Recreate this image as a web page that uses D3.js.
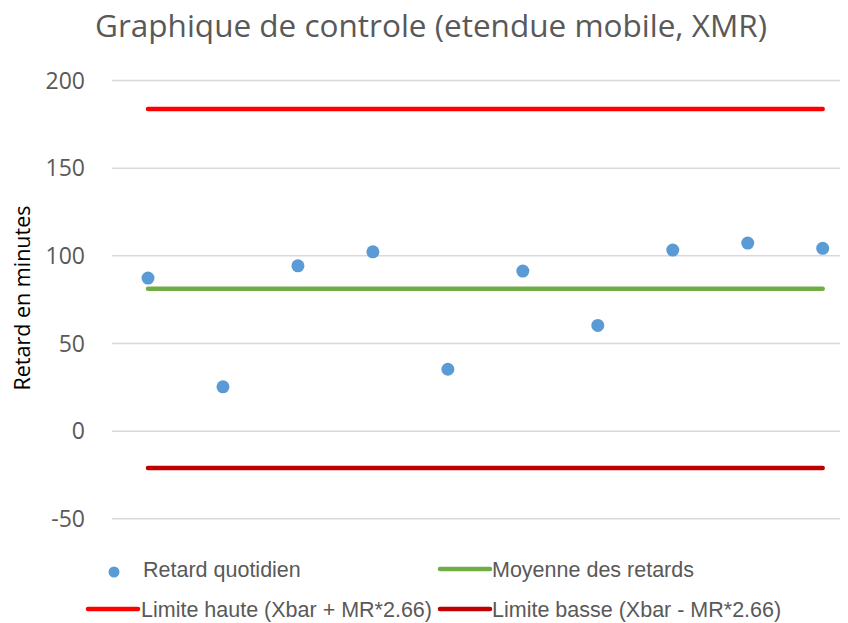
<!DOCTYPE html>
<html><head><meta charset="utf-8">
<script src="https://cdn.jsdelivr.net/npm/d3@7"></script>
<style>body{margin:0;background:#fff;} svg{display:block;}</style>
</head><body>
<script>
const days = [1,2,3,4,5,6,7,8,9,10];
const retards = [87,25,94,102,35,91,60,103,107,104];
const moyenne = 81;
const limiteHaute = 183.5;
const limiteBasse = -21.3;
const yTicks = [-50,0,50,100,150,200];
const seriesNames = ["Retard quotidien","Moyenne des retards","Limite haute (Xbar + MR*2.66)","Limite basse (Xbar - MR*2.66)"];
const colors = ["#5B9BD5","#70AD47","#FF0000","#C00000"];

const W=848,H=623;
const svg=d3.select("body").append("svg").attr("width",W).attr("height",H);
const x=d3.scalePoint().domain(days).range([148,822.7]);
const y=d3.scaleLinear().domain([-50,200]).range([518.3,80]);

svg.append("text").attr("x",431).attr("y",37).attr("text-anchor","middle")
  .attr("font-family","Open Sans, sans-serif").attr("font-size",31.5).attr("fill","#595959")
  .text("Graphique de controle (etendue mobile, XMR)");

const yAxis=d3.axisLeft(y).tickValues(yTicks).tickFormat(d=>String(d)).tickSize(-(840-112)).tickPadding(30);
const g=svg.append("g").attr("transform","translate(112,0)").call(yAxis);
g.select(".domain").remove();
g.selectAll(".tick line").attr("stroke","#D9D9D9").attr("stroke-width",1.5);
g.selectAll(".tick text").attr("fill","#595959").attr("font-family","Open Sans, sans-serif").attr("font-size",23).attr("text-anchor","end").attr("x",-27).attr("dy","0.35em");

svg.append("text").attr("transform","translate(30,298) rotate(-90)").attr("text-anchor","middle")
  .attr("font-family","Open Sans, sans-serif").attr("font-size",21.5).attr("fill","#000").text("Retard en minutes");

const hline=(v,c)=>svg.append("line").attr("x1",x(days[0])).attr("x2",x(days[days.length-1]))
  .attr("y1",y(v)).attr("y2",y(v)).attr("stroke",c).attr("stroke-width",4.5).attr("stroke-linecap","round");
hline(limiteHaute,colors[2]);
hline(limiteBasse,colors[3]);
hline(moyenne,colors[1]);

svg.selectAll("circle.pt").data(retards).enter().append("circle").attr("class","pt")
  .attr("cx",(d,i)=>x(days[i])).attr("cy",d=>y(d)).attr("r",6.5).attr("fill",colors[0]);

const lg=svg.append("g").attr("font-family","Liberation Sans, Arial, sans-serif").attr("font-size",21.5).attr("fill","#595959");
lg.append("circle").attr("cx",114).attr("cy",572).attr("r",5.5).attr("fill",colors[0]);
lg.append("text").attr("x",143).attr("y",577).text(seriesNames[0]);
const legLine=(x1,yy,c)=>lg.append("line").attr("x1",x1).attr("x2",x1+50).attr("y1",yy).attr("y2",yy).attr("stroke",c).attr("stroke-width",4.5).attr("stroke-linecap","round");
legLine(440,569,colors[1]);
lg.append("text").attr("x",492).attr("y",577).text(seriesNames[1]);
legLine(88,609,colors[2]);
lg.append("text").attr("x",141).attr("y",617).text(seriesNames[2]);
legLine(440,609,colors[3]);
lg.append("text").attr("x",492).attr("y",617).text(seriesNames[3]);
</script>
</body></html>
